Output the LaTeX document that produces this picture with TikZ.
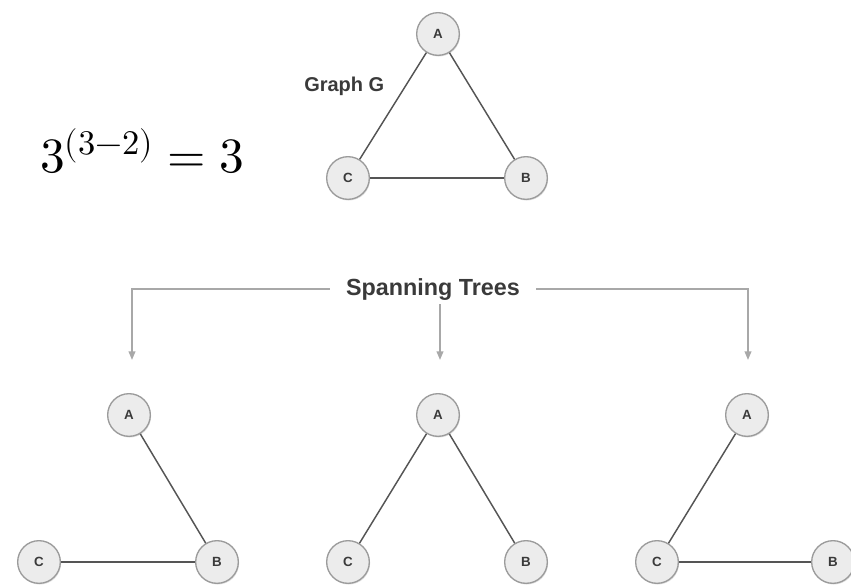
\documentclass[tikz,border=0pt]{standalone}
\usepackage{fontspec}
\usepackage{unicode-math}
\usepackage{tikz}
\usetikzlibrary{arrows.meta,shadows}
\newfontfamily\lblfont{Liberation Sans}
\definecolor{vfill}{HTML}{ECECEC}
\definecolor{vdraw}{HTML}{9B9B9B}
\definecolor{edgegray}{HTML}{555555}
\definecolor{feedgray}{HTML}{A8A8A8}
\definecolor{txtgray}{HTML}{3A3A3A}

\begin{document}
\begin{tikzpicture}[x=0.75pt,y=-0.75pt,
  vert/.style={circle,draw=vdraw,fill=vfill,line width=1pt,minimum size=32pt,inner sep=0pt,font=\lblfont\bfseries\fontsize{10}{12}\selectfont,text=txtgray,drop shadow={opacity=0.25,shadow xshift=0.6pt,shadow yshift=-0.9pt}},
  edge/.style={draw=edgegray,line width=1.1pt},
  feed/.style={draw=feedgray,line width=1.3pt},
  lbl/.style={font=\lblfont\bfseries,text=txtgray},
  >={Triangle[length=6.5pt,width=5pt]}]

  \useasboundingbox (0,0) rectangle (851,586);

  \node[anchor=base west,inner sep=0pt,font=\fontsize{37}{40}\selectfont] (eq) at (40,172) {$3^{(3-2)}=3$};

  % graph G
  \node[vert] (gA) at (438,34) {A};
  \node[vert] (gC) at (348,178) {C};
  \node[vert] (gB) at (526,178) {B};
  \draw[edge] (gA) -- (gC);
  \draw[edge] (gA) -- (gB);
  \draw[edge] (gC) -- (gB);
  \node[lbl,anchor=base east,font=\lblfont\bfseries\fontsize{15}{18}\selectfont] (gl) at (389,91) {Graph G};

  % spanning trees header
  \node[lbl,anchor=base,font=\lblfont\bfseries\fontsize{17.5}{20}\selectfont,inner xsep=12pt,inner ysep=3pt] (st) at (433,295) {Spanning Trees};
  \coordinate (s1) at (132,360);
  \coordinate (s2) at (440,360);
  \coordinate (s3) at (748,360);
  \draw[feed,->] (st.west) -| (s1);
  \draw[feed,->] (st.east) -| (s3);
  \draw[feed,->] (st.south -| s2) -- (s2);

  % tree 1
  \node[vert] (aA) at (129,415) {A};
  \node[vert] (aC) at (39,562) {C};
  \node[vert] (aB) at (217,562) {B};
  \draw[edge] (aA) -- (aB);
  \draw[edge] (aC) -- (aB);

  % tree 2
  \node[vert] (bA) at (438,415) {A};
  \node[vert] (bC) at (348,562) {C};
  \node[vert] (bB) at (526,562) {B};
  \draw[edge] (bA) -- (bC);
  \draw[edge] (bA) -- (bB);

  % tree 3
  \node[vert] (cA) at (747,415) {A};
  \node[vert] (cC) at (657,562) {C};
  \node[vert] (cB) at (833,562) {B};
  \draw[edge] (cA) -- (cC);
  \draw[edge] (cC) -- (cB);

\end{tikzpicture}
\end{document}
